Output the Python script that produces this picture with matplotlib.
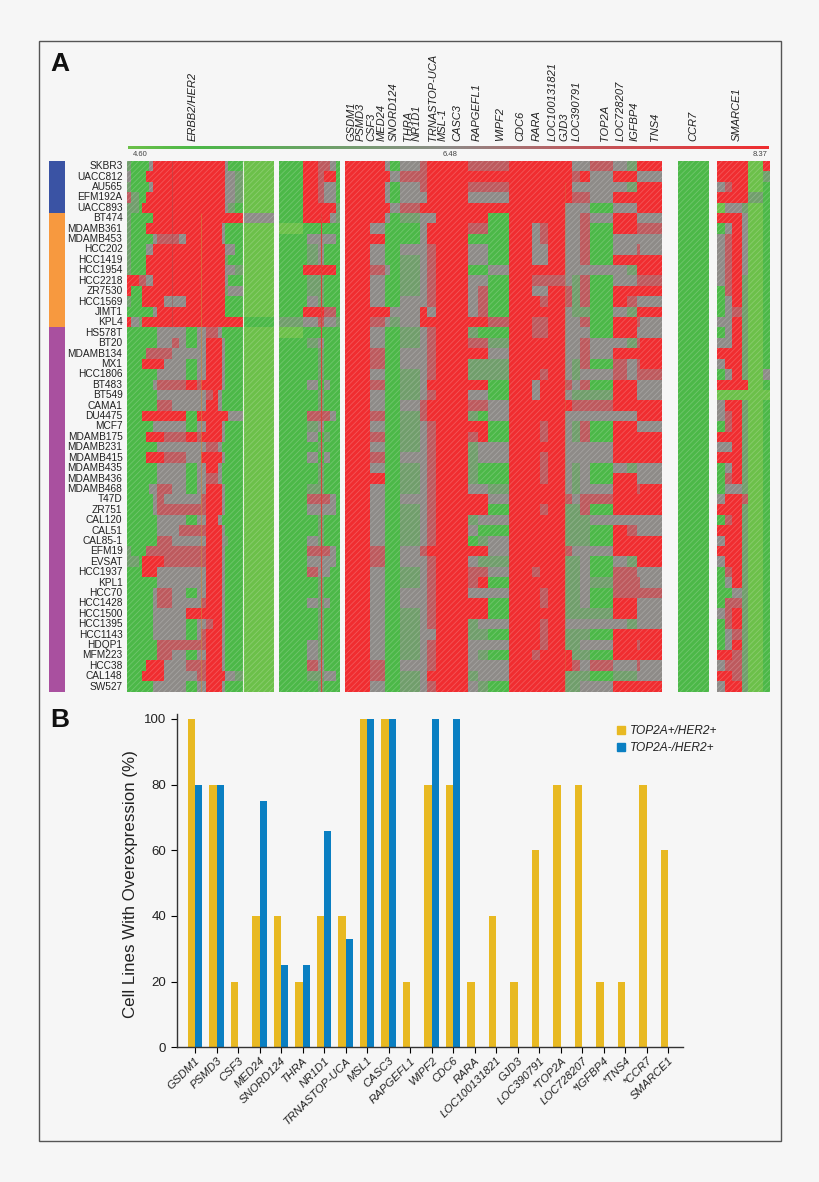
import numpy as np
import matplotlib
matplotlib.use("Agg")
import matplotlib.pyplot as plt
from matplotlib.colors import LinearSegmentedColormap, ListedColormap
from matplotlib.patches import Rectangle, Patch

plt.rcParams['font.family'] = ['Liberation Sans', 'DejaVu Sans']
plt.rcParams['hatch.linewidth'] = 0.6

W, H = 820, 1182
BG = "#f6f6f6"

# cell lines, top to bottom
cell_lines = ["SKBR3", "UACC812", "AU565", "EFM192A", "UACC893", "BT474", "MDAMB361", "MDAMB453",
              "HCC202", "HCC1419", "HCC1954", "HCC2218", "ZR7530", "HCC1569", "JIMT1", "KPL4",
              "HS578T", "BT20", "MDAMB134", "MX1", "HCC1806", "BT483", "BT549", "CAMA1", "DU4475",
              "MCF7", "MDAMB175", "MDAMB231", "MDAMB415", "MDAMB435", "MDAMB436", "MDAMB468",
              "T47D", "ZR751", "CAL120", "CAL51", "CAL85-1", "EFM19", "EVSAT", "HCC1937", "KPL1",
              "HCC70", "HCC1428", "HCC1500", "HCC1395", "HCC1143", "HDQP1", "MFM223", "HCC38",
              "CAL148", "SW527"]
group_sizes = [5, 11, 35]
group_colors = ["#3a53a4", "#f7993f", "#a9509f"]

# heatmap bands: width of every band (number of probes), one char per band in the rows
# l light green, g green, d grey green, o grey, m grey red, r red
levels = {"l": 4.60, "g": 5.00, "d": 5.85, "o": 6.48, "m": 7.25, "r": 8.37}

block1_widths = [10, 24, 11, 11, 10, 12, 10, 22, 23, 21, 22, 32, 13, 14, 23, 13, 12, 10, 10, 20, 25, 92]
block1 = ["dggggorrrrrrrrrrrroggl", "ogggrrrrrrrrrrrrrroodl", "dggggorrrrrrrrrrrroodl",
          "mdggrrrrrrrrrrrrrroodl", "ddgrrrrrrrrrrrrrrrodgl", "dgggggrrrrrrrrrrrrrrro",
          "dgggrrrrrrrrrrrrrogggl", "dgggggommmorrrrrrogggl", "dgggoorrrrrrrrrrrroogl",
          "dgggrrrrrrrrrrrrrrdggl", "dgggrrrrrrrrrrrrrroodl", "rrmmoorrrrrrrrrrrroggl",
          "rggrrrrrrrrrrrrrrrdool", "dggrrrrrooorrrrrrrgggl", "ggggggorrrrrrrrrrrgggl",
          "rodrrrrrrrrrrrrrrrrrrg", "gggggggoooogoommoggggl", "gggggggoomogoorrrogggl",
          "ggggmmmmmooooorrrogggl", "gggrrrrrooogoorrrogggl", "gggggggoooogoorrrogggl",
          "ggggggommmmrmrrrrogggl", "gggggggooooooomroggggl", "gggggggmmooooorroggggl",
          "gggrrrrrrrrgrrrrrrrool", "ggggggooooogoorrrogggl", "ggggrrrrmmmrmrrrrogggl",
          "gggggggooooooommoggggl", "ggggrrrrmmmoorrrrogggl", "gggggggoooogoorroggggl",
          "gggggggoooogoommoggggl", "gggggoommoogoorrrogggl", "ggggggomooooomrrrogggl",
          "ggggggommmmmmmrrrogggl", "gggggggoooogoorroggggl", "gggggggooommmmrrrogggl",
          "gggggggmmooooorrrodggl", "dgggmmmmmmmmmmrrrogggl", "ddgrrrrrmmmmmmrrrogggl",
          "gggrrrrooooooorrrogggl", "gggggggooooooorrrogggl", "ggggggommoogoorrrogggl",
          "ggggggommoooomrrrogggl", "ggggggooooorrrrrrogggl", "ggggggooooogoomrrogggl",
          "ggggggooooogomrrrogggl", "gggggggmmmmmmmrrrogggl", "gggggggmmoogoorrrogggl",
          "ggggrrrrooommmrrrogggl", "gggrrrrroooommrrrroodl", "ggggggooooogoorrrogggl"]

block2_widths = [72, 10, 35, 17, 18, 17, 13]
block2 = ["grrmmog", "grrmrrg", "grrmoog", "grrmoog", "grrrrrd", "grrrrod", "lgggggg", "ggoooog",
          "ggdoggg", "ggdoggg", "grrrrrg", "ggddggg", "ggddggg", "ggodggg", "grrrmmg", "doomood",
          "lgggggg", "ggdoggg", "gggdggg", "gggdggg", "gggdggg", "ggogogg", "gggdggg", "gggdggg",
          "ggmmmog", "ggdoggg", "ggogdgg", "gggdggg", "ggogogg", "gggdggg", "gggdggg", "ggddggg",
          "ggmmmog", "ggoooog", "gggdggg", "gggdggg", "ggodggg", "ggmmmog", "ggoooog", "ggmoogg",
          "gggdggg", "gggdggg", "ggodogg", "gggdggg", "gggdggg", "gggdggg", "ggodggg", "ggodggg",
          "ggmoggg", "ggddoog", "gggdggg"]

block3_widths = [75, 45, 15, 30, 60, 22, 26, 97, 30, 30, 63, 67, 25, 25, 50, 20, 25, 30, 70, 40, 30, 10, 67]
block3 = ["rrogomrrmmmrrrrroomodrr", "rrrommrrrrrrrrrrmrorroo", "rrogomrrmmmrrrrroooodrr",
          "rrogoorrooorrrrrmmorrrr", "rrromrrrrrrrrrrooogoorr", "rrogdoorrrgrrrroomorroo",
          "rogggorrmmgromroomgrrmm", "rrgggorrgggromroomgoooo", "roggoomroogrooroomgoomo",
          "roggdomroogrooroomgrrrr", "rmogdomrggorrrrooooodrr", "roggdomroogrmmmodmgoomm",
          "roggdomromgroormdmgrrrr", "roggoomromgrrmrmdmgrmoo", "rrroororomgrrrroddgodrr",
          "rmodorrrrrmrmmroomgrrmo", "roggdomrdggrmmrooogrroo", "roggdomrmmdrrrroomoodmr",
          "rmggoomrrrorrrroomorrrr", "rmggoomrdddrrrrodmgmomr", "roggdomrdddrrmrodoomomm",
          "rmggdorrrrgrorrmomgrroo", "roggdomroogrorrodddrroo", "roggomrrmmorrrrrmmmrrrr",
          "rmggdmrrdgorrrroooooorr", "roggdomrrrgrrmrodmgrroo", "rmggdomrmrgrrmrodmgrrrr",
          "roggdomrdoorrrroooorrrr", "rmggoomrdoorrmroooorrrr", "roggdomrdggrrmrodogodoo",
          "rrggdomrdggrrmrodogrroo", "roggdomroodrrrrodoorrmr", "roggoomrrrorrrrmommrrrr",
          "roggdomrrrgrrmrddmgrrrr", "roggdomrdoorrrrdddooooo", "roggdomroggrrrrdddgrmoo",
          "roggdomrgdorrrrdddgrrrr", "rmggomrrrrorrrrmooorrrr", "rmggoomroddrrrrddogodrr",
          "roggdomrmmormrrddogmmoo", "roggdomrmrgrrrrddodmmmo", "roggoomrooorrmrddogmmmm",
          "roggoomrrrgrrmrddogrroo", "roggdomrrrgrrrrddddrroo", "roggdomrdoorrmrooooodoo",
          "roggdoorddgrrmrdddgrrrr", "roggdomrooorrmrddoorrmr", "roggdomrodgrmrrrddgrrrr",
          "rmggoomrooorrrrrmomoomo", "rmggdorrdoorrrrdddgddoo", "roggdomrodgrrrrddoorrrr"]

block4_widths = [92]
block4 = ["g"] * 51

block5_widths = [25, 20, 30, 20, 45, 20]
block5 = ["rrrrlr", "rrrrld", "omrrlg", "rrrrdg", "loodlg", "rrrolg", "gorolg", "omrolg", "omrolg",
          "omrolg", "omrolg", "omrdlg", "gmrdlg", "gordlg", "gomdlg", "oordlg", "gordlg", "oordlg",
          "rrrdlg", "orrdlg", "gordlo", "rrrrlg", "llllll", "orrdlg", "omrdlg", "gmrdlg", "rrrdlg",
          "oordlg", "rrrdlg", "gordlg", "gmrdlg", "goodlg", "orrmlg", "rrrdlg", "gmrdlg", "rrrdlg",
          "orrdlg", "rrrdlg", "orrdlg", "gmrdlg", "gordlg", "ggodlg", "gmmdlg", "omrdlg", "gmrdlg",
          "gomdlg", "gordlg", "rrmdlg", "ommdlg", "rrmdlg", "orrdlg"]

gap_widths = [16, 15, 48, 23]

heat_genes = ["ERBB2/HER2", "GSDM1", "PSMD3", "CSF3", "MED24", "SNORD124", "THRA", "NR1D1",
              "TRNASTOP-UCA", "MSL-1", "CASC3", "RAPGEFL1", "WIPF2", "CDC6", "RARA", "LOC100131821",
              "GJD3", "LOC390791", "TOP2A", "LOC728207", "IGFBP4", "TNS4", "CCR7", "SMARCE1"]
heat_gene_px = [193, 351, 361, 371, 382, 394, 408, 417, 433, 443, 457, 477, 500, 520, 537, 553,
                564, 577, 605, 621, 635, 655, 693, 737]
scale_ticks = ["4.60", "6.48", "8.37"]

# panel B
bar_genes = ["GSDM1", "PSMD3", "CSF3", "MED24", "SNORD124", "THRA", "NR1D1", "TRNASTOP-UCA", "MSL1",
             "CASC3", "RAPGEFL1", "WIPF2", "CDC6", "RARA", "LOC100131821", "GJD3", "LOC390791",
             "*TOP2A", "LOC728207", "*IGFBP4", "*TNS4", "*CCR7", "SMARCE1"]
top2a_pos = [100, 80, 20, 40, 40, 20, 40, 40, 100, 100, 20, 80, 80, 20, 40, 20, 60, 80, 80, 20, 20, 80, 60]
top2a_neg = [80, 80, 0, 75, 25, 25, 66, 33, 100, 100, 0, 100, 100, 0, 0, 0, 0, 0, 0, 0, 0, 0, 0]


def px_axes(fig, left, top, right, bottom):
    return fig.add_axes([left / W, 1 - bottom / H, (right - left) / W, (bottom - top) / H])


def to_values(rows, widths):
    assert all(len(row) == len(widths) for row in rows)
    return np.array([[levels[c] for c in row] for row in rows])


blocks = [(block1, block1_widths), (block2, block2_widths), (block3, block3_widths),
          (block4, block4_widths), (block5, block5_widths)]

fig = plt.figure(figsize=(W / 100, H / 100), dpi=100, facecolor=BG)
fig.add_artist(Rectangle((39 / W, 1 - 1141 / H), 742 / W, 1100 / H, transform=fig.transFigure,
                         fill=False, edgecolor="#555555", linewidth=1))

cmap = LinearSegmentedColormap.from_list("expr", [(0.0, "#6cc04a"), (0.106, "#4cb848"), (0.5, "#8e8b88"),
                                                  (0.7, "#bd5a5e"), (1.0, "#f02d30")])

# heatmap
heat_left, heat_right = 127.3, 770
ax = px_axes(fig, heat_left, 161, heat_right, 691.7)
ax.set_facecolor(BG)
x0 = 0
y_edges = np.arange(len(cell_lines) + 1)
for i, (rows, widths) in enumerate(blocks):
    x_edges = x0 + np.concatenate([[0], np.cumsum(widths)])
    ax.pcolormesh(x_edges, y_edges, to_values(rows, widths), cmap=cmap, vmin=4.60, vmax=8.37)
    # the fine diagonal grain of the scan
    ax.add_patch(Rectangle((x_edges[0], 0), x_edges[-1] - x_edges[0], len(cell_lines), fill=False,
                           hatch="//////", edgecolor=(1, 1, 1, 0.2), linewidth=0))
    x0 = x_edges[-1]
    if i < len(gap_widths):
        x0 += gap_widths[i]
ax.set_xlim(0, x0)
ax.set_ylim(len(cell_lines), 0)
ax.axis("off")

# thin probes that stand out of the bands
ax.vlines(348, 0, 51, color="#e4efdc", linewidth=0.8)
ax.vlines(133, 0, 16, color="#a05050", linewidth=0.5, alpha=0.6)
ax.vlines(221, 5, 51, color="#c88a3c", linewidth=0.6, alpha=0.7)
ax.vlines(580, 5, 51, color="#d8463c", linewidth=0.8)
ax.vlines(1313, 2, 51, color="#c87a3c", linewidth=0.5, alpha=0.5)

for k, name in enumerate(cell_lines):
    fig.text(122.5 / W, 1 - (161 + (k + 0.5) * 10.41) / H, name, ha="right", va="center",
             fontsize=7.3, color="#222222")

# group strip
ax_g = px_axes(fig, 49.3, 161, 65, 691.7)
groups = np.repeat(np.arange(len(group_sizes)), group_sizes)[:, None]
ax_g.pcolormesh(groups, cmap=ListedColormap(group_colors))
ax_g.set_ylim(len(cell_lines), 0)
ax_g.axis("off")

# colour scale above the heatmap
ax_c = px_axes(fig, 128, 146, 769, 149)
ax_c.imshow(np.linspace(0, 1, 256)[None, :], aspect="auto", cmap=cmap)
ax_c.axis("off")
for label, px in zip(scale_ticks, [140, 450, 760]):
    fig.text(px / W, 1 - 154.5 / H, label, fontsize=5.5, ha="center", va="center", color="#444444")

for name, px in zip(heat_genes, heat_gene_px):
    fig.text(px / W, 1 - 141 / H, name, rotation=90, ha="center", va="bottom", style="italic",
             fontsize=8, color="#222222")

fig.text(50 / W, 1 - 71 / H, "A", fontsize=19, fontweight="bold", color="#111111")
fig.text(50 / W, 1 - 727 / H, "B", fontsize=19, fontweight="bold", color="#111111")

# panel B
ax_b = px_axes(fig, 176.7, 714, 683.3, 1047.3)
ax_b.set_facecolor("none")
pos = np.arange(len(bar_genes))
bar_w = 0.34
ax_b.bar(pos - bar_w / 2, top2a_pos, bar_w, color="#e8b922")
ax_b.bar(pos + bar_w / 2, top2a_neg, bar_w, color="#0a7fc2")
ax_b.set_xlim(-0.851, 22.70)
ax_b.set_ylim(0, 101.5)
ax_b.set_yticks([0, 20, 40, 60, 80, 100])
ax_b.set_xticks(pos)
ax_b.set_xticklabels(bar_genes, rotation=45, ha="right", rotation_mode="anchor", style="italic", fontsize=8.2,
                     color="#222222")
ax_b.tick_params(axis="y", labelsize=9.5, length=4, width=0.8, labelcolor="#222222")
ax_b.tick_params(axis="x", length=4, width=0.8, pad=2)
for side in ["top", "right"]:
    ax_b.spines[side].set_visible(False)
for side in ["left", "bottom"]:
    ax_b.spines[side].set_linewidth(1)
    ax_b.spines[side].set_color("#333333")
ax_b.set_ylabel("Cell Lines With Overexpression (%)", fontsize=12.2, color="#222222", labelpad=4, y=0.49)
leg = ax_b.legend(handles=[Patch(color="#e8b922", label="TOP2A+/HER2+"), Patch(color="#0a7fc2", label="TOP2A-/HER2+")],
                  loc="upper left", bbox_to_anchor=(0.870, 0.967), frameon=False, fontsize=8.6, handlelength=0.62,
                  handleheight=0.62, handletextpad=0.4, labelspacing=0.45, borderpad=0, borderaxespad=0)
for t in leg.get_texts():
    t.set_style("italic")
    t.set_color("#222222")

fig.savefig("out.png", dpi=100, facecolor=BG)
